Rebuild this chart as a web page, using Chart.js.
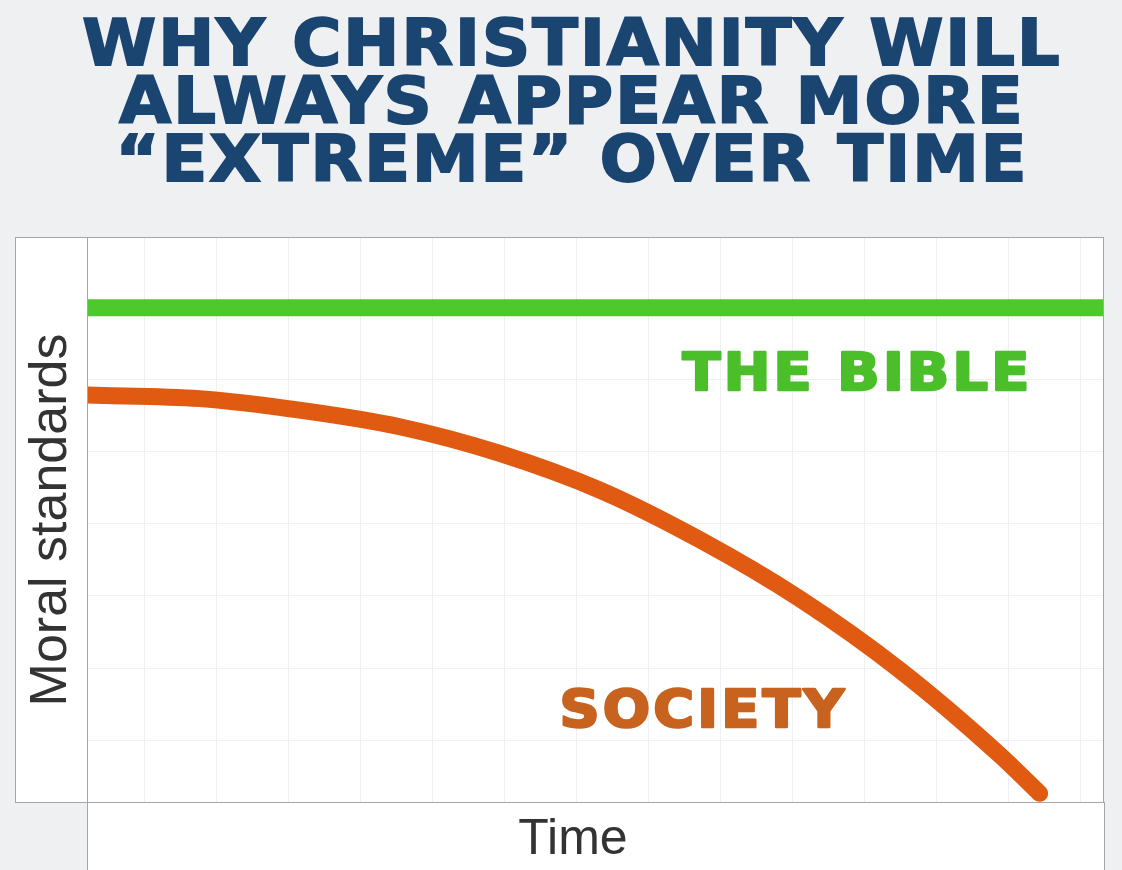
<!DOCTYPE html>
<html>
<head>
<meta charset="utf-8">
<script src="https://cdn.jsdelivr.net/npm/chart.js@4.4.1/dist/chart.umd.min.js"></script>
<style>
    html, body { margin: 0; padding: 0; }
    body { width: 1122px; height: 870px; background: #eff0f2; position: relative; overflow: hidden; }
    #wrap { position: absolute; left: 0; top: 0; width: 1122px; height: 870px; }
    #title {
        position: absolute; top: 14px; left: 22px; right: 0;
        text-align: center; white-space: nowrap;
        font-family: "DejaVu Sans", sans-serif; font-weight: bold;
        font-size: 64px; line-height: 58px; letter-spacing: 2px;
        color: #1b4571;
        -webkit-text-stroke: 2px #1b4571;
        transform: scaleX(1.045);
        transform-origin: 550px 0;
    }
</style>
</head>
<body>
<div id="wrap"><canvas id="moralChart"></canvas></div>
<div id="title">WHY CHRISTIANITY WILL<br>ALWAYS APPEAR MORE<br>“EXTREME” OVER TIME</div>
<script>
// axis range (grid lines fall on whole numbers)
const timeMin = -0.79;
const timeMax = 13.31;
const moralMin = -0.86;
const moralMax = 6.97;

// THE BIBLE - flat line
const bibleTime = [-0.79, 13.31];
const bibleValues = [6, 6];

// SOCIETY - falling curve
const societyTime = [-0.79, 0.76, 2.15, 3.54, 4.93, 6.32, 7.71, 9.10, 10.49, 11.88, 12.43];
const societyValues = [4.79, 4.74, 4.58, 4.35, 3.98, 3.47, 2.78, 1.96, 0.97, -0.21, -0.74];

function toPoints(xs, ys) {
    return xs.map((x, i) => ({ x: x, y: ys[i] }));
}

document.addEventListener('DOMContentLoaded', function() {
    // white panels behind the plot and the axis titles
    const panels = {
        id: 'panels',
        beforeDraw(chart) {
            const { ctx, chartArea } = chart;
            const l = chartArea.left, t = chartArea.top, r = chartArea.right, b = chartArea.bottom;
            ctx.save();
            ctx.fillStyle = '#ffffff';
            ctx.strokeStyle = '#a4a6a9';
            ctx.lineWidth = 1;
            // y title box
            ctx.fillRect(15, t, l - 15, b - t);
            ctx.strokeRect(15.5, t - 0.5, l - 15, b - t + 1);
            // x title box
            ctx.fillRect(l, b, r + 2 - l, chart.height - b);
            ctx.strokeRect(l - 0.5, b + 0.5, r + 2 - l, chart.height - b + 2);
            // plot
            ctx.fillRect(l, t, r - l, b - t);
            ctx.strokeRect(l - 0.5, t - 0.5, r - l + 1, b - t + 1);
            ctx.restore();
        },
        afterDraw(chart) {
            // x axis title sits a little left of the plot centre
            const { ctx, chartArea } = chart;
            ctx.save();
            ctx.font = '50px "Liberation Sans", Arial, sans-serif';
            ctx.fillStyle = '#333333';
            ctx.textAlign = 'center';
            ctx.textBaseline = 'middle';
            ctx.fillText('Time', 573, (chartArea.bottom + chart.height) / 2 + 4);
            ctx.restore();
        }
    };

    // series names written inside the plot
    const seriesNames = {
        id: 'seriesNames',
        afterDatasetsDraw(chart) {
            const { ctx, scales } = chart;
            const items = [
                { text: 'THE BIBLE', x: 7.47, y: 4.86, color: '#4bbf2a' },
                { text: 'SOCIETY', x: 5.76, y: 0.18, color: '#c8631f' }
            ];
            ctx.save();
            ctx.font = 'bold 52px "DejaVu Sans", sans-serif';
            ctx.letterSpacing = '3px';
            ctx.textBaseline = 'alphabetic';
            ctx.textAlign = 'left';
            ctx.lineWidth = 2.5;
            ctx.lineJoin = 'round';
            items.forEach(it => {
                const px = scales.x.getPixelForValue(it.x);
                const py = scales.y.getPixelForValue(it.y);
                ctx.fillStyle = it.color;
                ctx.strokeStyle = it.color;
                ctx.save();
                ctx.translate(px, py);
                ctx.scale(1.07, 1);
                ctx.fillText(it.text, 0, 0);
                ctx.strokeText(it.text, 0, 0);
                ctx.restore();
            });
            ctx.restore();
        }
    };

    const ctx = document.getElementById('moralChart').getContext('2d');
    const moralChart = new Chart(ctx, {
        type: 'line',
        data: {
            datasets: [
                {
                    label: 'THE BIBLE',
                    data: toPoints(bibleTime, bibleValues),
                    borderColor: '#4dc92b',
                    borderWidth: 17,
                    pointRadius: 0,
                    borderCapStyle: 'butt',
                    clip: { left: 0, top: 10, right: 4, bottom: 0 }
                },
                {
                    label: 'SOCIETY',
                    data: toPoints(societyTime, societyValues),
                    borderColor: '#e05a12',
                    borderWidth: 17,
                    pointRadius: 0,
                    cubicInterpolationMode: 'monotone',
                    borderCapStyle: 'round',
                    borderJoinStyle: 'round',
                    clip: { left: 0, top: 0, right: 10, bottom: 2 }
                }
            ]
        },
        options: {
            responsive: true,
            maintainAspectRatio: false,
            animation: false,
            layout: {
                padding: { left: 15, right: 19, top: 238, bottom: 68 }
            },
            plugins: {
                legend: { display: false },
                tooltip: { enabled: false }
            },
            scales: {
                x: {
                    type: 'linear',
                    min: timeMin,
                    max: timeMax,
                    border: { display: false },
                    grid: { color: '#eef0f5', drawTicks: false },
                    ticks: { display: false, stepSize: 1, includeBounds: false },
                    title: { display: false }
                },
                y: {
                    type: 'linear',
                    min: moralMin,
                    max: moralMax,
                    border: { display: false },
                    grid: { color: '#eef0f5', drawTicks: false },
                    ticks: { display: false, stepSize: 1, includeBounds: false },
                    title: {
                        display: true,
                        text: 'Moral standards',
                        color: '#333333',
                        font: { family: '"Liberation Sans", Arial, sans-serif', size: 52, lineHeight: 1 },
                        padding: { top: 11, bottom: 10 }
                    }
                }
            }
        },
        plugins: [panels, seriesNames]
    });
});
</script>
</body>
</html>
